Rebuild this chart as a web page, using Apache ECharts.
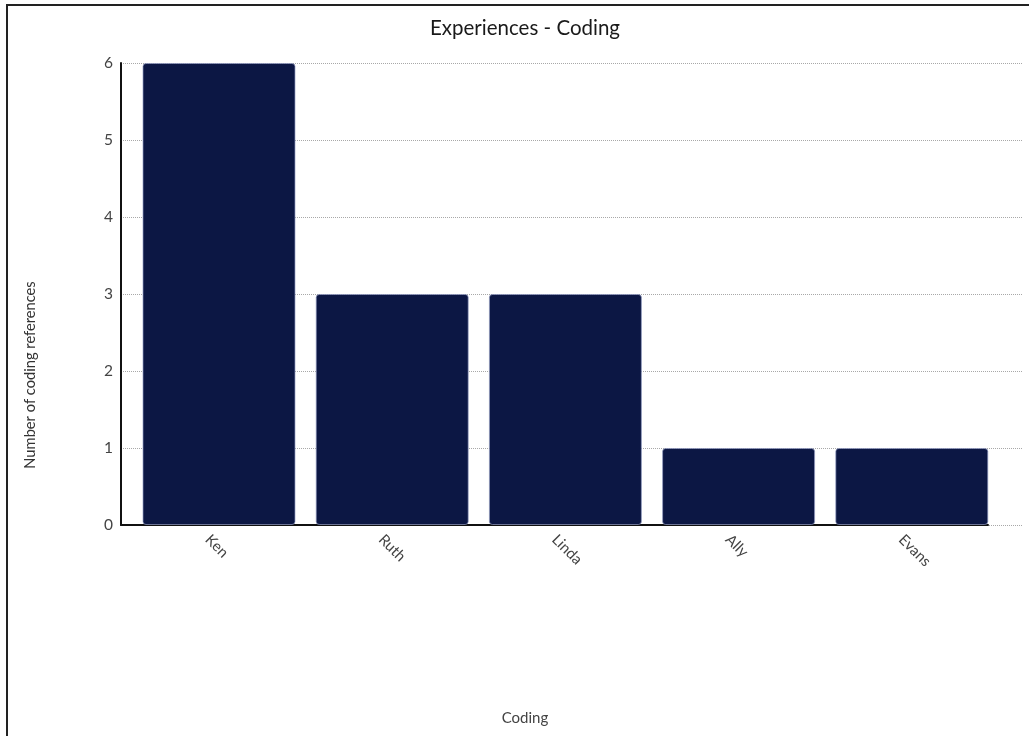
<!DOCTYPE html>
<html>
<head>
<meta charset="utf-8">
<style>
  html, body { margin: 0; padding: 0; background: #fff; }
  #chart { width: 1029px; height: 736px; }
</style>
<script src="https://cdn.jsdelivr.net/npm/echarts@6/dist/echarts.min.js"></script>
</head>
<body>
<div id="chart"></div>
<script>
// Coding references per participant
const categories = ['Ken', 'Ruth', 'Linda', 'Ally', 'Evans'];
const references = [6, 3, 3, 1, 1];
const yTicks = [0, 1, 2, 3, 4, 5, 6];

const titleText = 'Experiences - Coding';
const xName = 'Coding';
const yName = 'Number of coding references';

const FONT = 'Lato, "Open Sans", sans-serif';
const BAR_COLOR = '#0c1744';

const chart = echarts.init(document.getElementById('chart'));

const yMin = yTicks[0];
const yMax = yTicks[yTicks.length - 1];

chart.setOption({
  animation: false,
  backgroundColor: '#ffffff',
  grid: [
    // gridlines + value axis
    { left: 121, right: 7, top: 63, bottom: 211 },
    // category axis line and labels
    { left: 121, right: 41, top: 63, bottom: 211 },
    // bars
    { left: 132.4, right: 30.6, top: 63, bottom: 211 }
  ],
  xAxis: [
    { gridIndex: 0, type: 'value', min: 0, max: 1, show: false },
    {
      gridIndex: 1, type: 'category', data: categories,
      axisLine: { show: true, lineStyle: { color: '#111', width: 2 } },
      axisTick: { show: false },
      axisLabel: {
        rotate: -45, margin: 12, interval: 0,
        fontFamily: FONT, fontSize: 15, color: '#444'
      },
      splitLine: { show: false }
    },
    { gridIndex: 2, type: 'category', data: categories, show: false }
  ],
  yAxis: [
    {
      gridIndex: 0, type: 'value', min: yMin, max: yMax, interval: 1,
      axisLine: { show: true, lineStyle: { color: '#111', width: 2 } },
      axisTick: { show: false },
      axisLabel: { margin: 8, fontFamily: FONT, fontSize: 15.5, color: '#444' },
      splitLine: { show: true, lineStyle: { color: '#a8a8a8', type: 'dotted', width: 1 } }
    },
    { gridIndex: 1, type: 'value', min: yMin, max: yMax, show: false },
    { gridIndex: 2, type: 'value', min: yMin, max: yMax, show: false }
  ],
  series: [
    {
      type: 'bar',
      xAxisIndex: 2,
      yAxisIndex: 2,
      data: references,
      barWidth: 153,
      itemStyle: {
        color: BAR_COLOR,
        borderColor: 'rgba(150,158,195,0.7)',
        borderWidth: 1,
        borderRadius: 3
      }
    }
  ],
  graphic: [
    {
      type: 'polyline',
      shape: { points: [[7, 736], [7, 5], [1029, 5]] },
      style: { stroke: '#222', lineWidth: 2, fill: null },
      silent: true
    },
    {
      type: 'text',
      x: 525, y: 28,
      style: {
        text: titleText, fontFamily: FONT, fontSize: 20.5, fill: '#1a1a1a',
        align: 'center', verticalAlign: 'middle'
      }
    },
    {
      type: 'text',
      x: 525, y: 718,
      style: {
        text: xName, fontFamily: FONT, fontSize: 15, fill: '#444',
        align: 'center', verticalAlign: 'middle'
      }
    },
    {
      type: 'text',
      x: 30, y: 375, rotation: Math.PI / 2,
      style: {
        text: yName, fontFamily: FONT, fontSize: 14.7, fill: '#333',
        align: 'center', verticalAlign: 'middle'
      }
    }
  ]
});
</script>
</body>
</html>
